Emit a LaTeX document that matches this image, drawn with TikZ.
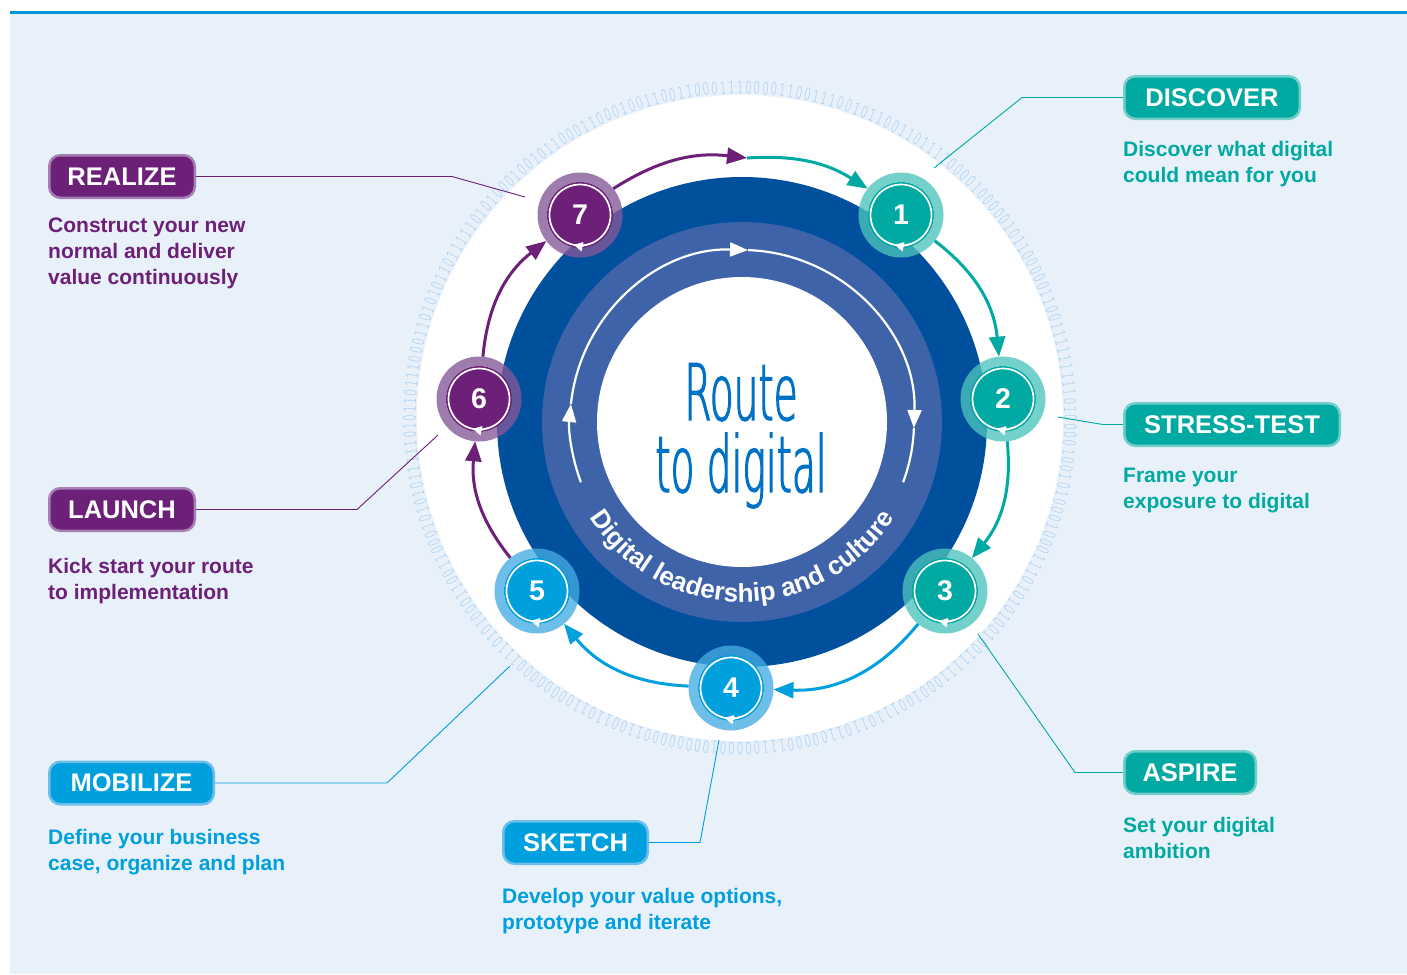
\documentclass[tikz,border=0pt]{standalone}
\usepackage{fontspec}
\setmainfont{Liberation Sans}
\newfontfamily\thinfont[FakeStretch=0.5, FakeBold=1.5]{DejaVuSans-ExtraLight.ttf}
\newfontfamily\bitfont[FakeStretch=0.62]{DejaVuSans-ExtraLight.ttf}
\usetikzlibrary{arrows.meta,decorations.text}

\definecolor{bgblue}{RGB}{232,240,250}
\definecolor{topline}{RGB}{0,150,214}
\definecolor{deepblue}{RGB}{0,80,157}
\definecolor{ringblue}{RGB}{62,99,168}
\definecolor{routeblue}{RGB}{0,114,198}
\definecolor{bitblue}{RGB}{150,200,238}
\definecolor{kteal}{RGB}{0,169,161}
\definecolor{ktealring}{RGB}{78,196,189}
\definecolor{ktealedge}{RGB}{115,205,200}
\definecolor{kpurple}{RGB}{109,32,119}
\definecolor{kpurplering}{RGB}{133,88,152}
\definecolor{kpurpleedge}{RGB}{165,127,180}
\definecolor{kblue}{RGB}{0,159,222}
\definecolor{kbluering}{RGB}{69,172,226}
\definecolor{kblueedge}{RGB}{110,190,235}

\newcommand\tagfont{\fontsize{25.5}{25.5}\selectfont\bfseries}
\newcommand\descfont{\fontsize{21}{26}\selectfont\bfseries}
\newcommand\stepfont{\fontsize{28.5}{28.5}\selectfont\bfseries}
\newcommand\routefont{\thinfont\fontsize{78}{72}\selectfont}
\newcommand\ringtextfont{\fontsize{26}{26}\selectfont\bfseries\color{white}}

% translucent halo, inner white loop and its small arrow tip around a step disk
\newcommand\ringdeco[2]{%
  \fill[#2, fill opacity=.78, even odd rule] (#1.center) circle (42.5) circle (33);
  \draw[white, line width=1.7pt] (#1.center) circle (30.5);
  \draw[white, line width=1.7pt, -{Triangle[length=9pt,width=9pt]}]
    ([shift={(-70:30.5)}]#1.center) arc[start angle=-70, end angle=-102, radius=30.5];
}

\tikzset{
  stepnode/.style={circle, minimum size=66pt, inner sep=0pt, outer sep=9.5pt,
    fill=#1, text=white, font=\stepfont},
  conn/.style={line width=3pt, draw=#1, -{Triangle[length=20pt,width=16pt]}},
  leader/.style={line width=0.9pt, draw=#1},
  tagbox/.style 2 args={rounded corners=11pt, minimum height=42.5pt, inner sep=0pt,
    fill=#1, draw=#2, line width=2.5pt, text=white, font=\tagfont},
  desc/.style={anchor=north west, inner sep=0pt, align=left, text=#1, font=\descfont},
  bit/.style={inner sep=0pt, anchor=base, text=bitblue, font=\bitfont\fontsize{16.5}{16.5}\selectfont},
  innerarrow/.style={white, line width=2.2pt, -{Triangle[length=18pt,width=14pt]}},
}

\begin{document}
\begin{tikzpicture}[x=1pt,y=1pt]
\useasboundingbox (0,0) rectangle (1407,-974);
\fill[white] (0,0) rectangle (1407,-974);
\fill[bgblue] (10,-13) rectangle (1407,-974);
\draw[topline, line width=3pt] (10,-12.5) -- (1407,-12.5);

% white disk ringed by binary digits
\begin{scope}[shift={(740,-418)}]
  \fill[white] (0,0) circle (323);
  \pgfmathsetseed{271}
  \foreach \i in {0,...,243}{
    \pgfmathsetmacro\ang{90-\i*1.47541}
    \pgfmathrandominteger{\b}{0}{1}
    \node[bit, rotate=\ang-90] (bit\i) at (\ang:324.5) {\b};
  }
\end{scope}

% central disks
\begin{scope}[shift={(742,-422)}]
  \fill[deepblue] (0,0) circle (245);
  \fill[ringblue] (0,0) circle (200);
  \fill[white] (0,0) circle (145);
  \draw[innerarrow] (200.5:172) arc[start angle=200.5, end angle=174, radius=172];
  \draw[innerarrow] (174:172) arc[start angle=174, end angle=88, radius=172];
  \draw[innerarrow] (88:172) arc[start angle=88, end angle=-2, radius=172];
  \draw[white, line width=2.2pt] (-2:172) arc[start angle=-2, end angle=-20.5, radius=172];
  \path[decorate, decoration={text along path, text align=center,
      text={|\ringtextfont|Digital leadership and culture}}]
    (200:180) arc[start angle=200, end angle=340, radius=180];
\end{scope}

\node[font=\routefont, text=routeblue, align=center, anchor=north, inner sep=0pt]
  (route) at (741,-363) {Route\\to digital};

% leader line bends and free ends
\coordinate (dA) at (1022,-97.5);  \coordinate (dB) at (934,-168);
\coordinate (sA) at (1103,-424.5); \coordinate (sB) at (1058,-417);
\coordinate (aA) at (1075,-772.5); \coordinate (aB) at (978,-634);
\coordinate (kA) at (700,-842.5);  \coordinate (kB) at (719,-740);
\coordinate (mA) at (387,-783);    \coordinate (mB) at (510,-666);
\coordinate (lA) at (357,-509.5);  \coordinate (lB) at (438,-435);
\coordinate (rA) at (452,-176.5);  \coordinate (rB) at (525,-197);

% step disks
\node[stepnode=kteal]   (n1) at (901,-215) {1};
\node[stepnode=kteal]   (n2) at (1003,-399) {2};
\node[stepnode=kteal]   (n3) at (945,-591) {3};
\node[stepnode=kblue]   (n4) at (731,-688) {4};
\node[stepnode=kblue]   (n5) at (537,-591) {5};
\node[stepnode=kpurple] (n6) at (479,-399) {6};
\node[stepnode=kpurple] (n7) at (580,-215) {7};
\coordinate (top) at (747,-158);

\ringdeco{n1}{ktealring}
\ringdeco{n2}{ktealring}
\ringdeco{n3}{ktealring}
\ringdeco{n4}{kbluering}
\ringdeco{n5}{kbluering}
\ringdeco{n6}{kpurplering}
\ringdeco{n7}{kpurplering}

% cycle connectors
\draw[conn=kpurple] (n7) to[bend left=19.5] (top);
\draw[conn=kteal]   (top) to[bend left=18] (n1);
\draw[conn=kteal]   (n1) to[bend left=23.6] (n2);
\draw[conn=kteal]   (n2) to[bend left=22.5] (n3);
\draw[conn=kblue]   (n3) to[bend left=26.4] (n4);
\draw[conn=kblue]   (n4) to[bend left=24] (n5);
\draw[conn=kpurple] (n5) to[bend left=22] (n6);
\draw[conn=kpurple] (n6) to[bend left=23.5] (n7);

% stage tags
\node[tagbox={kteal}{ktealedge}, minimum width=175.5pt]     (discover) at (1212,-97.5) {DISCOVER};
\node[tagbox={kteal}{ktealedge}, minimum width=215.5pt]     (stress)   at (1232,-424.5) {STRESS-TEST};
\node[tagbox={kteal}{ktealedge}, minimum width=131.5pt]     (aspire)   at (1190,-772.5) {ASPIRE};
\node[tagbox={kblue}{kblueedge}, minimum width=144.5pt]     (sketch)   at (575.5,-842.5) {SKETCH};
\node[tagbox={kblue}{kblueedge}, minimum width=164.5pt]     (mobilize) at (131.5,-783) {MOBILIZE};
\node[tagbox={kpurple}{kpurpleedge}, minimum width=145.5pt] (launch)   at (122,-509.5) {LAUNCH};
\node[tagbox={kpurple}{kpurpleedge}, minimum width=145.5pt] (realize)  at (122,-176.5) {REALIZE};

\draw[leader=kteal]   (discover.west) -- (dA) -- (dB);
\draw[leader=kteal]   (stress.west) -- (sA) -- (sB);
\draw[leader=kteal]   (aspire.west) -- (aA) -- (aB);
\draw[leader=kblue]   (sketch.east) -- (kA) -- (kB);
\draw[leader=kblue]   (mobilize.east) -- (mA) -- (mB);
\draw[leader=kpurple] (launch.east) -- (lA) -- (lB);
\draw[leader=kpurple] (realize.east) -- (rA) -- (rB);

% stage descriptions
\node[desc=kteal]   (discoverText) at (1123,-141) {Discover what digital\\could mean for you};
\node[desc=kteal]   (stressText)   at (1123,-468) {Frame your\\exposure to digital};
\node[desc=kteal]   (aspireText)   at (1123,-817) {Set your digital\\ambition};
\node[desc=kblue]   (sketchText)   at (502,-888)  {Develop your value options,\\prototype and iterate};
\node[desc=kblue]   (mobilizeText) at (48,-829)   {Define your business\\case, organize and plan};
\node[desc=kpurple] (launchText)   at (48,-558)   {Kick start your route\\to implementation};
\node[desc=kpurple] (realizeText)  at (48,-218)   {Construct your new\\normal and deliver\\value continuously};
\end{tikzpicture}
\end{document}
